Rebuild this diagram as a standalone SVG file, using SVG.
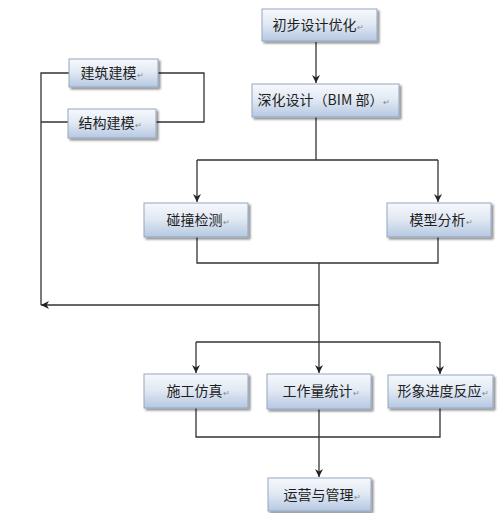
<svg xmlns="http://www.w3.org/2000/svg" width="500" height="513" viewBox="0 0 500 513">
<defs>
<linearGradient id="g" x1="0" y1="0" x2="0" y2="1">
<stop offset="0" stop-color="#f6f8fc"/>
<stop offset="0.45" stop-color="#e3eaf4"/>
<stop offset="1" stop-color="#b5c8e2"/>
</linearGradient>
<marker id="ah" viewBox="0 0 10 10" refX="10" refY="5" markerWidth="8" markerHeight="8" markerUnits="userSpaceOnUse" orient="auto">
<path d="M0,0 L10,5 L0,10 L3,5 Z" fill="#222"/>
</marker>
<filter id="sh" x="-10%" y="-10%" width="130%" height="140%">
<feGaussianBlur in="SourceAlpha" stdDeviation="1"/>
<feOffset dx="2" dy="2" result="b"/>
<feComponentTransfer><feFuncA type="linear" slope="0.45"/></feComponentTransfer>
<feMerge><feMergeNode/><feMergeNode in="SourceGraphic"/></feMerge>
</filter>
</defs>
<style>
.box{fill:url(#g);stroke:#93a7c2;stroke-width:1;filter:url(#sh)}
.t{font-family:"Noto Sans CJK SC","Liberation Sans",sans-serif;font-size:14px;fill:#1e1e1e;text-anchor:middle}
.r{font-size:8px;fill:#888}
.c{fill:none;stroke:#333;stroke-width:1.3}
</style>
<rect width="500" height="513" fill="#ffffff"/>
<g id="connectors">
<path class="c" d="M316,42 V83" marker-end="url(#ah)"/>
<path class="c" d="M316,117 V160 M197,160 H438"/>
<path class="c" d="M197,160 V202" marker-end="url(#ah)"/>
<path class="c" d="M438,160 V202" marker-end="url(#ah)"/>
<path class="c" d="M197,237 V263 H438 V237 M319,263 V342"/>
<path class="c" d="M319,305 H41" marker-end="url(#ah)"/>
<path class="c" d="M41,305 V73 H69 M41,122 H68 M158,73 H204 V122 H156"/>
<path class="c" d="M196,342 H440"/>
<path class="c" d="M196,342 V373" marker-end="url(#ah)"/>
<path class="c" d="M319,342 V373" marker-end="url(#ah)"/>
<path class="c" d="M440,342 V374" marker-end="url(#ah)"/>
<path class="c" d="M196,408 V437 H440 V408"/>
<path class="c" d="M319,409 V477" marker-end="url(#ah)"/>
</g>
<g id="n1"><rect class="box" x="262" y="9" width="115" height="32"/><text class="t" x="318" y="30">初步设计优化<tspan class="r">↵</tspan></text></g>
<g id="n2"><rect class="box" x="252" y="84" width="147" height="33"/><text class="t" x="324" y="105">深化设计（BIM 部）<tspan class="r">↵</tspan></text></g>
<g id="n3"><rect class="box" x="69" y="59" width="89" height="28"/><text class="t" x="112" y="78">建筑建模<tspan class="r">↵</tspan></text></g>
<g id="n4"><rect class="box" x="68" y="109" width="88" height="29"/><text class="t" x="110" y="128">结构建模<tspan class="r">↵</tspan></text></g>
<g id="n5"><rect class="box" x="144" y="203" width="104" height="34"/><text class="t" x="198" y="225">碰撞检测<tspan class="r">↵</tspan></text></g>
<g id="n6"><rect class="box" x="387" y="203" width="104" height="34"/><text class="t" x="441" y="225">模型分析<tspan class="r">↵</tspan></text></g>
<g id="n7"><rect class="box" x="144" y="374" width="104" height="34"/><text class="t" x="198" y="396">施工仿真<tspan class="r">↵</tspan></text></g>
<g id="n8"><rect class="box" x="267" y="374" width="104" height="35"/><text class="t" x="321" y="396">工作量统计<tspan class="r">↵</tspan></text></g>
<g id="n9"><rect class="box" x="388" y="375" width="105" height="33"/><text class="t" x="443" y="396">形象进度反应<tspan class="r">↵</tspan></text></g>
<g id="n10"><rect class="box" x="268" y="478" width="103" height="33"/><text class="t" x="322" y="500">运营与管理<tspan class="r">↵</tspan></text></g>
</svg>
